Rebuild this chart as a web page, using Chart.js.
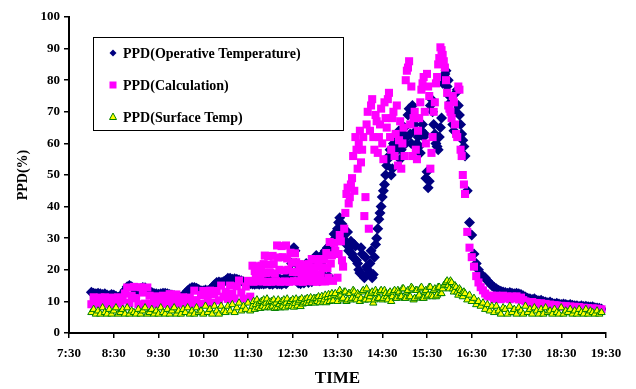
<!DOCTYPE html>
<html>
<head>
<meta charset="utf-8">
<script src="https://cdn.jsdelivr.net/npm/chart.js@4.4.1/dist/chart.umd.min.js"></script>
<style>
  body { margin: 0; background: #fff; }
</style>
</head>
<body>
<canvas id="ppdChart" width="636" height="389"></canvas>
<script>
// time of day in decimal hours, one row per hour (finer steps where the bands are thick)
var times = [
  8.0, 8.05, 8.1, 8.15, 8.2, 8.25, 8.3, 8.35, 8.4, 8.45, 8.5, 8.55, 8.6, 8.65, 8.7, 8.75, 8.8, 8.85, 8.9, 8.95,
  9.0, 9.05, 9.1, 9.15, 9.2, 9.25, 9.3, 9.35, 9.4, 9.45, 9.5, 9.55, 9.6, 9.65, 9.7, 9.75, 9.8, 9.85, 9.9, 9.95,
  10.0, 10.05, 10.1, 10.15, 10.2, 10.25, 10.3, 10.35, 10.4, 10.45, 10.5, 10.55, 10.6, 10.65, 10.7, 10.75, 10.8, 10.85, 10.9, 10.95,
  11.0, 11.05, 11.1, 11.15, 11.2, 11.25, 11.3, 11.35, 11.4, 11.45, 11.5, 11.55,
  11.6, 11.625, 11.65, 11.675, 11.7, 11.725, 11.75, 11.775, 11.8, 11.825, 11.85, 11.875, 11.9, 11.925, 11.95, 11.975,
  12.0, 12.025, 12.05, 12.075, 12.1, 12.125, 12.15, 12.175, 12.2, 12.225, 12.25, 12.275, 12.3, 12.325, 12.35, 12.375, 12.4, 12.425, 12.45, 12.475,
  12.5, 12.525, 12.55, 12.575, 12.6, 12.625, 12.65, 12.675, 12.7, 12.725, 12.75, 12.775, 12.8, 12.825, 12.85, 12.875, 12.9, 12.925, 12.95, 12.975,
  13.0, 13.025, 13.05, 13.075, 13.1, 13.125, 13.15, 13.175, 13.2, 13.225, 13.25, 13.275, 13.3, 13.325, 13.35, 13.375, 13.4, 13.425, 13.45,
  13.5, 13.525, 13.55, 13.575, 13.6, 13.625, 13.65, 13.675, 13.7, 13.725, 13.75, 13.775, 13.8, 13.825, 13.85, 13.875, 13.9, 13.925, 13.95, 13.975,
  14.0, 14.025, 14.05, 14.075, 14.1, 14.125, 14.15, 14.175, 14.2, 14.225, 14.25, 14.275, 14.3, 14.325, 14.35, 14.375, 14.4, 14.425, 14.45, 14.475,
  14.5, 14.525, 14.55, 14.575, 14.6, 14.625, 14.65, 14.675, 14.7, 14.725, 14.75, 14.775, 14.8, 14.825, 14.85, 14.875, 14.9, 14.925, 14.95, 14.975,
  15.0, 15.025, 15.05, 15.075, 15.1, 15.125, 15.15, 15.175, 15.2, 15.225, 15.25, 15.275, 15.3, 15.325, 15.35, 15.375, 15.4, 15.425, 15.45, 15.475,
  15.5, 15.525, 15.55, 15.575, 15.6, 15.625, 15.65, 15.675, 15.7, 15.725, 15.75, 15.775, 15.8, 15.825, 15.85, 15.875, 15.9, 15.925, 15.95, 15.975,
  16.0, 16.025, 16.05, 16.075, 16.1, 16.125, 16.15, 16.175, 16.2, 16.225, 16.25, 16.275, 16.3, 16.325, 16.35,
  16.4, 16.45, 16.5, 16.55, 16.6, 16.65, 16.7, 16.75, 16.8, 16.85, 16.9, 16.95,
  17.0, 17.05, 17.1, 17.15, 17.2, 17.25, 17.3, 17.35, 17.4, 17.45, 17.5, 17.55, 17.6, 17.65, 17.7, 17.75, 17.8, 17.85, 17.9, 17.95,
  18.0, 18.05, 18.1, 18.15, 18.2, 18.25, 18.3, 18.35, 18.4, 18.45, 18.5, 18.55, 18.6, 18.65, 18.7, 18.75, 18.8, 18.85, 18.9, 18.95,
  19.0, 19.05, 19.1, 19.15, 19.2, 19.25, 19.3, 19.35, 19.4
];

var opTemp = [
  12.9, 12.6, 12.4, 12.6, 12.4, 12.2, 12.4, 12, 11.8, 12.2, 12, 11.6, 11.3, 11.8, 12.3, 13.5, 14.6, 15, 14.6, 14,
  13.8, 13.6, 14, 14.4, 14.3, 13.8, 13.2, 12.8, 12.5, 12.4, 12.3, 12.4, 12.6, 12.6, 12.4, 12.2, 12, 11.8, 11.5, 11.3,
  11.3, 11.8, 12.6, 13.4, 14, 14.4, 14.4, 14.2, 13.8, 13.4, 13.4, 13.6, 13.4, 13.8, 14.5, 15.3, 16, 16.1, 16, 16.2,
  16.6, 17.3, 17.3, 17, 17.2, 17, 16.8, 16.5, 16.2, 16, 15.8, 15.6,
  15.5, 16.2, 15.4, 17, 15.6, 16.8, 15.4, 16, 15.6, 17, 15.5, 16.5, 15.7, 16.2, 17.5, 15.5,
  15.6, 17.5, 15.4, 16.2, 15.8, 18, 15.5, 16.5, 15.6, 17, 15.4, 16.2, 15.8, 17.5, 15.6, 16.8, 16.5, 20, 18, 22,
  26.6, 27, 26, 22, 19, 15.8, 17, 15.6, 16.2, 18, 15.8, 17, 22, 17, 16, 21, 17.5, 16.2, 22.5, 23.5,
  23.8, 24.5, 17, 23.5, 16.5, 22, 24.5, 25, 18, 26, 25.5, 27, 18, 27.5, 28, 26, 29, 31.3, 30,
  33, 35, 36.5, 33, 34.5, 30, 31, 29, 28, 32, 26, 27, 29, 25, 24, 28, 27.5, 23, 22, 20,
  19, 27, 25, 18, 17.5, 24, 21, 20, 19, 22, 26, 17.5, 18.5, 24, 28, 30, 33, 36, 38, 40,
  43, 45, 47, 50, 53, 55, 56, 58, 50, 52, 60, 57, 58, 60, 62, 64, 55, 58, 60, 63,
  65, 60, 62, 69, 71, 63, 60, 72, 69, 66, 64, 60, 62, 59, 57, 64, 66, 62, 63, 49,
  51, 46, 48, 72, 74, 70, 66, 63, 60, 59, 58, 62, 65, 68, 79, 81, 82, 83, 78, 80,
  75, 73, 70, 66, 64, 70, 76, 77, 72, 69, 66, 63, 61, 59, 56,
  45, 35, 31, 25, 22, 20, 18.5, 18, 17.5, 16.5, 15.8, 15,
  14.5, 14, 13.5, 13.2, 13, 12.8, 12.6, 12.8, 12.6, 12.4, 12.6, 12.4, 12.2, 11.8, 11.4, 11, 10.8, 10.6, 10.8, 10.4,
  10.2, 10.4, 10, 9.8, 9.6, 9.8, 9.4, 9.2, 9.4, 9.2, 9, 9.2, 9, 8.8, 9, 8.8, 8.6, 8.6, 8.4, 8.6,
  8.4, 8.5, 8.3, 8.2, 8.3, 8, 7.9, 7.8, 7.6
];

var calc = [
  9.1, 11.3, 10.2, 9.2, 11.2, 10, 11.3, 9.1, 10.3, 11.2, 9.2, 10.1, 11.3, 9.3, 10.5, 12.5, 14.4, 9.5, 11.8, 14.6,
  11, 9.1, 14.5, 12.8, 9.3, 14.4, 11.8, 9.2, 10.5, 11.6, 9.1, 10.4, 11.8, 9.2, 10.6, 12.3, 9.1, 10.7, 12.2, 9.3,
  10.8, 11.3, 9.1, 10.2, 11.2, 9.2, 13.4, 10.4, 9.2, 12, 13.3, 9.3, 11.2, 13.4, 9.5, 12.2, 13.3, 10.3, 15, 11.5,
  13, 10.8, 15, 12.4, 10.9, 14.8, 16.6, 12.8, 10.9, 14.7, 16.5, 11.5,
  21.3, 16.2, 19.6, 17.9, 21.1, 16.4, 19.5, 18, 21.3, 16.3, 21.8, 24.5, 19, 16.2, 24.3, 21.6,
  19.1, 16.2, 24.4, 21.8, 18.8, 16.4, 27.7, 23.9, 20, 16.2, 27.5, 24, 19.8, 16.3, 27.7, 23.6, 20, 16.2, 25.4, 22.3,
  19.3, 16.4, 25.2, 22.4, 19.2, 16.3, 21.8, 19.9, 18.1, 16.2, 21.6, 20, 18, 16.4, 21.8, 19.8, 18.2, 23.4, 16.3, 20.8,
  23.2, 18.6, 16.2, 21, 23.4, 18.5, 16.4, 20.8, 23.3, 16.3, 25.3, 20.5, 17.5, 28.8, 22, 24.6, 16.5, 28.5, 26,
  17.5, 25, 31, 29, 23, 21, 33, 38, 44, 46, 41, 43, 47, 49, 56, 45, 62, 58, 52, 60,
  64, 54, 58, 62, 37, 43, 66, 70, 33, 64, 72, 74, 62, 58, 69, 67, 57, 62, 66, 71,
  60, 55, 73, 68, 65, 74, 76, 62, 58, 68, 70, 56, 63, 72, 53, 61, 67, 52, 60, 65,
  56, 80, 83, 84, 86, 66, 78, 56, 68, 70, 58, 55, 64, 68, 73, 77, 79, 81, 70, 60,
  82, 78, 75, 52, 57, 62, 70, 73, 79, 81, 85, 87, 90.4, 89.5, 88, 86, 84, 80, 76, 72,
  71, 70, 68, 75, 73, 66, 63, 62, 78, 77, 58, 56, 50, 47, 44,
  32, 27, 24, 21, 18, 16, 14.5, 13.5, 12.5, 11.8, 11.5, 11.8,
  10.8, 11.8, 11.2, 10.7, 11.8, 11, 11.6, 10.7, 11.5, 11, 11.6, 10.6, 11.2, 10.4, 10, 9.8, 9.6, 9.8, 9.4, 9.5,
  9.2, 9.4, 9, 9.2, 8.8, 9, 8.6, 8.8, 8.7, 8.5, 8.6, 8.4, 8.5, 8.2, 8.4, 8.1, 8.3, 8, 8.2, 7.9,
  8, 7.8, 7.9, 7.6, 7.8, 7.5, 7.7, 7.4, 7.5
];

var surface = [
  6.5, 7.5, 6, 7, 6, 8, 6.5, 6, 7.5, 6, 7, 8, 6, 6.5, 7.5, 6, 8, 6, 7, 6.5,
  6, 7.5, 6, 7, 8, 6, 6.5, 7.5, 6, 7, 6, 8, 6.5, 6, 7.5, 6, 7, 8, 6, 7,
  6, 7.5, 6.5, 8, 6, 7, 6, 8, 6.5, 7, 6, 8.5, 6.5, 7.5, 6, 8.5, 7, 6, 8.5, 7,
  6.5, 8.5, 7, 9, 6.5, 8, 9.5, 7, 8.5, 7.5, 9.5, 7,
  8.5, 10, 7.5, 9, 10.5, 8, 9.5, 7.8, 10, 8.5, 10.5, 8, 9.5, 10.8, 8.2, 9.8,
  8, 10, 8.5, 10.5, 7.8, 9.5, 8, 10.5, 9, 8, 10, 8.5, 10.5, 8, 9.5, 10.8, 8.5, 9.5, 10, 8.5,
  10.6, 8.2, 9.4, 10.8, 8.6, 9.8, 10.4, 8.4, 10.9, 9.2, 9.8, 10.6, 9.5, 11, 9.4, 10.2, 11.2, 9.6, 10.5, 11,
  9.5, 11, 10, 11.5, 9.6, 10.8, 11.6, 9.8, 10.5, 12, 9.6, 11.2, 12.2, 10, 11.5, 12.5, 10.2, 12, 12.5,
  10, 11.5, 13.5, 12, 10.5, 11, 13, 13, 10, 10.5, 12.5, 12.5, 10.5, 11, 13.5, 13, 11, 10.5, 12.5, 12,
  10, 11, 13, 13.5, 10.5, 10.5, 14, 12, 10.5, 11.5, 12.5, 13, 9.5, 10.5, 13.5, 12.5, 11, 11, 13, 13.5,
  10.5, 11, 13.5, 12.5, 11.5, 10.5, 12.5, 13, 10, 11.5, 13, 13.5, 11, 11, 13.5, 13, 11.5, 11.5, 14, 14,
  11, 11, 13, 13.5, 11.5, 11.5, 14.5, 14, 10.5, 11, 13.5, 13.5, 11.5, 12, 14, 14.5, 11, 11, 13, 13.5,
  11.5, 12, 14.5, 14.5, 12, 11.5, 13.5, 14, 11.5, 12, 14.5, 14.5, 12.5, 12.5, 14, 15, 15.5, 16, 16.5, 15,
  14, 16.5, 16, 14, 13, 15, 14.5, 13, 12, 14, 13.5, 12.5, 11.5, 13, 12.5,
  10.5, 12, 10, 11, 9, 10, 8.5, 9.5, 7.5, 9, 7, 8.5,
  6.5, 8.5, 7, 6, 8, 7.5, 6, 8.5, 6.5, 7.5, 6, 8, 7, 6, 8.5, 6.5, 7.5, 6, 8, 7,
  6, 7.5, 6, 8, 6.5, 7, 6, 7.5, 6.5, 6, 8, 6, 7, 6.5, 7.5, 6, 7, 6, 7.5, 6.5,
  6, 7.5, 6, 7, 6.5, 6, 7, 6, 6.5
];

var seriesNames = ['PPD(Operative Temperature)', 'PPD(Calculation)', 'PPD(Surface Temp)'];

var serif = "'Liberation Serif', 'Times New Roman', serif";

function toPoints(vals) {
  return vals.map(function (v, i) { return { x: times[i], y: v }; });
}

// legend drawn as a framed box inside the plot, like the original
var boxedLegend = {
  id: 'boxedLegend',
  afterDraw: function (chart) {
    var ctx = chart.ctx;
    ctx.save();
    ctx.strokeStyle = '#000';
    ctx.lineWidth = 1;
    ctx.strokeRect(93.5, 37.5, 250, 93);
    ctx.font = 'bold 14px ' + serif;
    ctx.textBaseline = 'middle';
    chart.data.datasets.forEach(function (ds, i) {
      var cx = 113, cy = 53 + i * 32;
      ctx.fillStyle = ds.backgroundColor;
      ctx.strokeStyle = ds.borderColor;
      ctx.lineWidth = 1;
      ctx.beginPath();
      if (ds.pointStyle === 'rectRot') {
        ctx.moveTo(cx, cy - 3.5); ctx.lineTo(cx + 3.5, cy); ctx.lineTo(cx, cy + 3.5); ctx.lineTo(cx - 3.5, cy);
        ctx.closePath(); ctx.fill();
      } else if (ds.pointStyle === 'rect') {
        ctx.rect(cx - 3.5, cy - 3.5, 7, 7); ctx.fill();
      } else {
        ctx.moveTo(cx, cy - 4); ctx.lineTo(cx + 3.5, cy + 2.5); ctx.lineTo(cx - 3.5, cy + 2.5);
        ctx.closePath(); ctx.fill(); ctx.stroke();
      }
      ctx.fillStyle = '#000';
      ctx.fillText(ds.label, 123, cy + 1);
    });
    ctx.restore();
  }
};

new Chart(document.getElementById('ppdChart'), {
  type: 'scatter',
  data: {
    datasets: [{
      label: seriesNames[0],
      data: toPoints(opTemp),
      pointStyle: 'rectRot',
      pointRadius: 5.5,
      backgroundColor: '#000080',
      borderColor: '#000080',
      borderWidth: 0,
      order: 3
    }, {
      label: seriesNames[1],
      data: toPoints(calc),
      pointStyle: 'rect',
      pointRadius: 5.7,
      backgroundColor: '#ff00ff',
      borderColor: '#ff00ff',
      borderWidth: 0,
      order: 2
    }, {
      label: seriesNames[2],
      data: toPoints(surface),
      pointStyle: 'triangle',
      pointRadius: 4.2,
      backgroundColor: '#ffff00',
      borderColor: '#008000',
      borderWidth: 1,
      order: 1
    }]
  },
  options: {
    responsive: false,
    animation: false,
    layout: { padding: { top: 17, right: 30, left: 0, bottom: 0 } },
    plugins: {
      legend: { display: false },
      tooltip: { enabled: false }
    },
    scales: {
      x: {
        type: 'linear',
        min: 7.5,
        max: 19.5,
        afterFit: function (s) { s.height = 56; },
        ticks: {
          stepSize: 1,
          padding: 8,
          color: '#000',
          font: { family: serif, size: 13, weight: 'bold' },
          callback: function (v) { return Math.floor(v) + ':30'; }
        },
        grid: { drawOnChartArea: false, color: '#000', tickLength: 5, lineWidth: 1.5 },
        border: { color: '#000', width: 2 },
        title: {
          display: true,
          text: 'TIME',
          color: '#000',
          padding: { top: 0, bottom: 0 },
          font: { family: serif, size: 17, weight: 'bold' }
        }
      },
      y: {
        min: 0,
        max: 100,
        afterFit: function (s) { s.width = 69; },
        ticks: {
          stepSize: 10,
          padding: 4,
          color: '#000',
          font: { family: serif, size: 13, weight: 'bold' }
        },
        grid: { drawOnChartArea: false, color: '#000', tickLength: 5, lineWidth: 1.5 },
        border: { color: '#000', width: 2 },
        title: {
          display: true,
          text: 'PPD(%)',
          color: '#000',
          padding: { top: 15, bottom: 0 },
          font: { family: serif, size: 14, weight: 'bold' }
        }
      }
    }
  },
  plugins: [boxedLegend]
});
</script>
</body>
</html>
